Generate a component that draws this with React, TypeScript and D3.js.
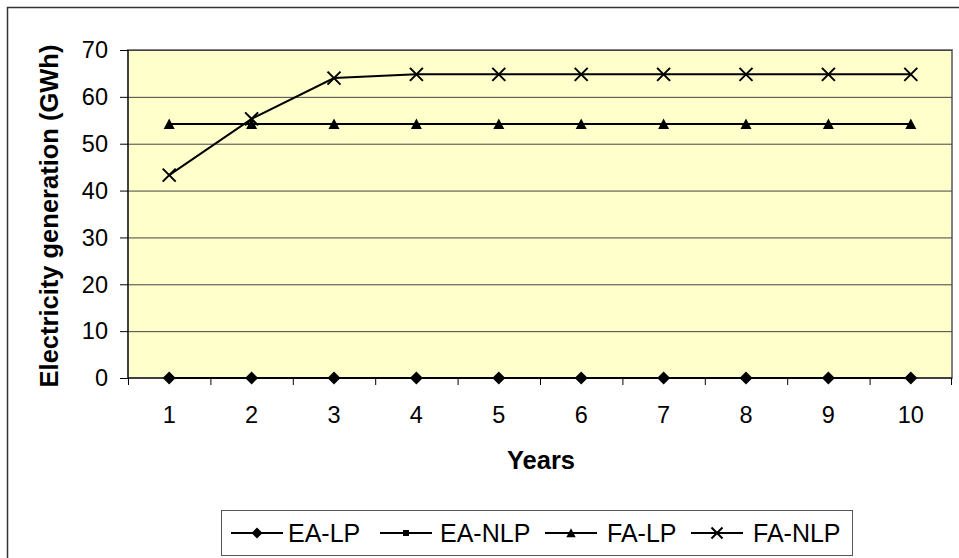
import React from "react";
import * as d3 from "d3";

const years = ["1", "2", "3", "4", "5", "6", "7", "8", "9", "10"];
const eaLP = [0, 0, 0, 0, 0, 0, 0, 0, 0, 0];
const eaNLP = [0, 0, 0, 0, 0, 0, 0, 0, 0, 0];
const faLP = [54.2, 54.2, 54.2, 54.2, 54.2, 54.2, 54.2, 54.2, 54.2, 54.2];
const faNLP = [43.3, 55.3, 64.0, 64.8, 64.8, 64.8, 64.8, 64.8, 64.8, 64.8];
const yTicks = [0, 10, 20, 30, 40, 50, 60, 70];
const seriesNames = ["EA-LP", "EA-NLP", "FA-LP", "FA-NLP"];
const seriesMarkers = ["diamond", "square", "triangle", "x"];

const W = 959, H = 558;
const plot = { left: 128, right: 952, top: 50, bottom: 378 };
const FONT = "'Liberation Sans', Arial, sans-serif";

function Marker({ type, x, y, s = 1 }: { type: string; x: number; y: number; s?: number }) {
  if (type === "diamond") {
    const r = 6.5 * s;
    return <path d={`M${x},${y - r}L${x + r},${y}L${x},${y + r}L${x - r},${y}Z`} fill="#000" />;
  }
  if (type === "square") {
    const r = 3 * s;
    return <rect x={x - r} y={y - r} width={2 * r} height={2 * r} fill="#000" />;
  }
  if (type === "triangle") {
    const r = 5.5 * s;
    return <path d={`M${x},${y - r}L${x + r},${y + r * 0.9}L${x - r},${y + r * 0.9}Z`} fill="#000" />;
  }
  const r = 6.5 * s;
  return (
    <path d={`M${x - r},${y - r}L${x + r},${y + r}M${x - r},${y + r}L${x + r},${y - r}`} stroke="#000" strokeWidth={2} />
  );
}

export default function App() {
  const x = d3.scaleBand<string>().domain(years).range([plot.left, plot.right]);
  const y = d3.scaleLinear().domain([0, 70]).range([plot.bottom, plot.top]);
  const cx = (d: string) => (x(d) as number) + x.bandwidth() / 2;
  const series = [eaLP, eaNLP, faLP, faNLP];
  const line = d3.line<number>().x((_, i) => cx(years[i])).y((v) => y(v));

  const legendItems = [
    { lx: 231, tx: 288 },
    { lx: 380, tx: 440 },
    { lx: 545, tx: 607 },
    { lx: 691, tx: 753 },
  ];

  return (
    <svg width={W} height={H} style={{ position: "absolute", left: 0, top: 0 }} fontFamily={FONT}>
      <rect x={0} y={0} width={W} height={H} fill="#fff" />
      <rect x={7.5} y={7.5} width={1000} height={1000} fill="none" stroke="#333" strokeWidth={1.5} />
      <rect x={plot.left} y={plot.top} width={plot.right - plot.left} height={plot.bottom - plot.top} fill="#FFFFCC" stroke="#808080" strokeWidth={2} />
      {yTicks.filter((t) => t > 0).map((t) => (
        <line key={t} x1={plot.left} x2={plot.right} y1={y(t) + 0.5} y2={y(t) + 0.5} stroke="#444" strokeWidth={1} />
      ))}
      <line x1={plot.left} x2={plot.left} y1={plot.top} y2={plot.bottom} stroke="#000" strokeWidth={1} />
      <line x1={plot.left} x2={plot.right} y1={plot.bottom} y2={plot.bottom} stroke="#000" strokeWidth={1} />
      {yTicks.map((t) => (
        <g key={t}>
          <line x1={plot.left - 8} x2={plot.left} y1={y(t) + 0.5} y2={y(t) + 0.5} stroke="#000" />
          <text x={108} y={y(t)} dy="0.35em" textAnchor="end" fontSize={23.5}>{t}</text>
        </g>
      ))}
      {years.map((d, i) => (
        <line key={"t" + i} x1={(x(d) as number) + 0.5} x2={(x(d) as number) + 0.5} y1={plot.bottom} y2={plot.bottom + 7} stroke="#000" />
      ))}
      <line x1={plot.right - 0.5} x2={plot.right - 0.5} y1={plot.bottom} y2={plot.bottom + 7} stroke="#000" />
      {years.map((d) => (
        <text key={"l" + d} x={cx(d)} y={423} textAnchor="middle" fontSize={23.5}>{d}</text>
      ))}
      <text x={541} y={469} textAnchor="middle" fontSize={25.5} fontWeight="bold">Years</text>
      <text transform={`translate(58,${(plot.top + plot.bottom) / 2 + 2}) rotate(-90)`} textAnchor="middle" fontSize={25.5} fontWeight="bold">
        Electricity generation (GWh)
      </text>
      {series.map((s, si) => (
        <g key={"s" + si}>
          <path d={line(s) as string} fill="none" stroke="#000" strokeWidth={2} />
          {s.map((v, i) => (
            <Marker key={i} type={seriesMarkers[si]} x={cx(years[i])} y={y(v)} />
          ))}
        </g>
      ))}
      <rect x={221.5} y={510.5} width={631} height={45} fill="#fff" stroke="#555" strokeWidth={1} />
      {legendItems.map((it, i) => (
        <g key={"lg" + i}>
          <line x1={it.lx} x2={it.lx + 52} y1={533} y2={533} stroke="#000" strokeWidth={2} />
          <Marker type={seriesMarkers[i]} x={it.lx + 26} y={533} s={i === 1 ? 1 : 0.85} />
          <text x={it.tx} y={533} dy="0.36em" fontSize={25}>{seriesNames[i]}</text>
        </g>
      ))}
    </svg>
  );
}
